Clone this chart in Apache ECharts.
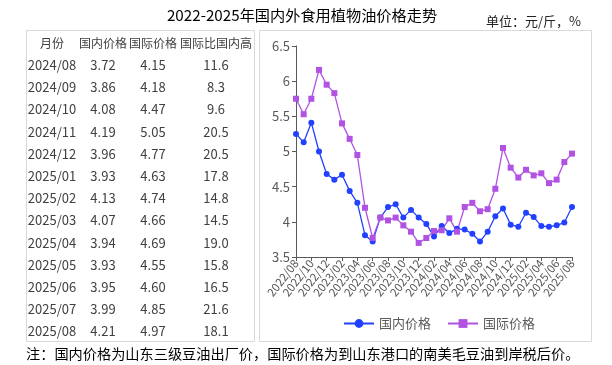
<!DOCTYPE html>
<html><head><meta charset="utf-8">
<script src="https://cdn.jsdelivr.net/npm/echarts@6/dist/echarts.min.js"></script>
<style>html,body{margin:0;padding:0;background:#fff}#c{width:612px;height:365px}</style>
</head><body><div id="c"></div>
<script>
// ---- data ----
const months = ['2022/08','2022/09','2022/10','2022/11','2022/12','2023/01','2023/02','2023/03','2023/04','2023/05','2023/06','2023/07','2023/08','2023/09','2023/10','2023/11','2023/12','2024/01','2024/02','2024/03','2024/04','2024/05','2024/06','2024/07','2024/08','2024/09','2024/10','2024/11','2024/12','2025/01','2025/02','2025/03','2025/04','2025/05','2025/06','2025/07','2025/08'];
const domestic = [5.25,5.13,5.41,5.00,4.68,4.60,4.67,4.44,4.27,3.81,3.72,4.06,4.21,4.25,4.06,4.17,4.06,3.97,3.79,3.94,3.84,3.90,3.89,3.83,3.72,3.86,4.08,4.19,3.96,3.93,4.13,4.07,3.94,3.93,3.95,3.99,4.21];
const intl = [5.75,5.53,5.75,6.16,5.95,5.83,5.40,5.18,4.95,4.20,3.77,4.06,4.02,4.06,3.95,3.86,3.70,3.77,3.87,3.88,4.05,3.86,4.21,4.27,4.15,4.18,4.47,5.05,4.77,4.63,4.74,4.66,4.69,4.55,4.60,4.85,4.97];
const seriesNames = ['国内价格','国际价格'];

const tableHeaders = ['月份','国内价格','国际价格','国际比国内高'];
const tableMonths = ['2024/08','2024/09','2024/10','2024/11','2024/12','2025/01','2025/02','2025/03','2025/04','2025/05','2025/06','2025/07','2025/08'];
const tableDomestic = [3.72,3.86,4.08,4.19,3.96,3.93,4.13,4.07,3.94,3.93,3.95,3.99,4.21];
const tableIntl = [4.15,4.18,4.47,5.05,4.77,4.63,4.74,4.66,4.69,4.55,4.60,4.85,4.97];
const tableDiff = [11.6,8.3,9.6,20.5,20.5,17.8,14.8,14.5,19.0,15.8,16.5,21.6,18.1];

const titleText = '2022-2025年国内外食用植物油价格走势';
const unitText = '单位：元/斤，%';
const noteText = '注：国内价格为山东三级豆油出厂价，国际价格为到山东港口的南美毛豆油到岸税后价。';

// ---- layout ----
const CJK = '"Noto Sans CJK SC", "Noto Sans", sans-serif';
const BLUE = '#2140FF';
const PURPLE = '#B152E3';
const colX = [52, 103, 153, 216];
const headerY = 43;
const rowY0 = 65, rowH = 22.2;

const graphics = [];
graphics.push({type:'rect', z:0, shape:{x:26.5, y:30.5, width:228, height:311}, style:{fill:'none', stroke:'#d9d9d9', lineWidth:1}});
graphics.push({type:'rect', z:0, shape:{x:259.5, y:30.5, width:332, height:311}, style:{fill:'none', stroke:'#d9d9d9', lineWidth:1}});
graphics.push({type:'text', x:302, y:15, style:{text:titleText, fontSize:15.2, fontFamily:CJK, fill:'#000', align:'center', verticalAlign:'middle'}});
graphics.push({type:'text', x:486, y:21, style:{text:unitText, fontSize:13, fontFamily:CJK, fill:'#222', align:'left', verticalAlign:'middle'}});
graphics.push({type:'text', x:26, y:354, style:{text:noteText, fontSize:14.2, fontFamily:CJK, fill:'#000', align:'left', verticalAlign:'middle'}});
tableHeaders.forEach((h,i)=>{
  graphics.push({type:'text', x:colX[i], y:headerY, style:{text:h, fontSize:12, fontFamily:CJK, fill:'#404040', align:'center', verticalAlign:'middle'}});
});
tableMonths.forEach((m,r)=>{
  const y = rowY0 + r*rowH;
  const cells = [m, tableDomestic[r].toFixed(2), tableIntl[r].toFixed(2), tableDiff[r].toFixed(1)];
  cells.forEach((c,i)=>{
    graphics.push({type:'text', x:colX[i], y:y, style:{text:c, fontSize:13, fontFamily:CJK, fill:'#404040', align:'center', verticalAlign:'middle'}});
  });
});

const chart = echarts.init(document.getElementById('c'), null, {renderer:'canvas'});
chart.setOption({
  animation:false,
  backgroundColor:'#fff',
  graphic: graphics,
  grid:{left:296, right:612-572, top:46, bottom:365-257, containLabel:false},
  legend:{
    data:seriesNames, left:338, top:312, itemWidth:30, itemHeight:11, itemGap:16,
    textStyle:{fontSize:13, color:'#595959', fontFamily:CJK}
  },
  xAxis:{
    type:'category', data:months, boundaryGap:false,
    axisLine:{lineStyle:{color:'#595959', width:1}},
    axisTick:{show:true, interval:1, length:4, lineStyle:{color:'#595959'}},
    axisLabel:{interval:1, rotate:52, fontSize:11.5, color:'#595959', fontFamily:CJK, margin:4, hideOverlap:false}
  },
  yAxis:{
    type:'value', min:3.5, max:6.5, interval:0.5,
    axisLine:{show:true, lineStyle:{color:'#595959', width:1}},
    axisTick:{show:true, length:4, lineStyle:{color:'#595959'}},
    splitLine:{show:false},
    axisLabel:{fontSize:13, color:'#595959', fontFamily:CJK, margin:6}
  },
  series:[
    {name:seriesNames[0], type:'line', data:domestic, symbol:'circle', symbolSize:6, showAllSymbol:true,
     itemStyle:{color:BLUE}, lineStyle:{color:BLUE, width:1.3}},
    {name:seriesNames[1], type:'line', data:intl, symbol:'rect', symbolSize:6, showAllSymbol:true,
     itemStyle:{color:PURPLE}, lineStyle:{color:PURPLE, width:1.3}}
  ]
});
</script></body></html>
